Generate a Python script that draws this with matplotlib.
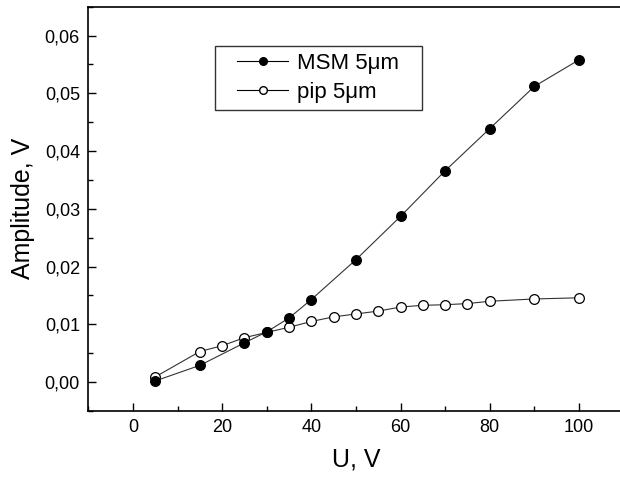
import matplotlib
matplotlib.use("Agg")
import matplotlib.pyplot as plt
from matplotlib.lines import Line2D
from matplotlib.legend_handler import HandlerLine2D
from matplotlib.ticker import MultipleLocator, FuncFormatter

plt.rcParams['font.family'] = ['Liberation Sans', 'DejaVu Sans']

# MSM 5um (filled circles)
u_msm = [5, 15, 25, 30, 35, 40, 50, 60, 70, 80, 90, 100]
amp_msm = [0.0002, 0.0029, 0.0068, 0.0087, 0.0111, 0.0143, 0.0212,
           0.0287, 0.0366, 0.0439, 0.0512, 0.0558]

# pip 5um (open circles)
u_pip = [5, 15, 20, 25, 30, 35, 40, 45, 50, 55, 60, 65, 70, 75, 80, 90, 100]
amp_pip = [0.0009, 0.0053, 0.0063, 0.0077, 0.0086, 0.0095, 0.0105, 0.0113,
           0.0118, 0.0123, 0.0130, 0.0133, 0.0134, 0.0136, 0.0140, 0.0144, 0.0146]

labels = ["MSM 5\u03bcm", "pip 5\u03bcm"]

fig = plt.figure(figsize=(6.2, 4.82), dpi=100)
ax = fig.add_axes([0.1424, 0.1473, 0.8634, 0.8388])

ax.plot(u_pip, amp_pip, '-', color='#333333', lw=0.8, marker='o', ms=7,
        mfc='white', mec='black', mew=0.9, zorder=2)
ax.plot(u_msm, amp_msm, '-', color='#333333', lw=0.8, marker='o', ms=7,
        mfc='black', mec='black', mew=0.9, zorder=3)

ax.set_xlim(-10, 110)
ax.set_ylim(-0.005, 0.065)
ax.xaxis.set_major_locator(MultipleLocator(20))
ax.xaxis.set_minor_locator(MultipleLocator(10))
ax.yaxis.set_major_locator(MultipleLocator(0.01))
ax.yaxis.set_minor_locator(MultipleLocator(0.005))
ax.yaxis.set_major_formatter(FuncFormatter(lambda v, p: f"{v:.2f}".replace('.', ',')))

ax.tick_params(which='both', direction='in', top=False, right=False,
               labelsize=13, width=1.0)
ax.tick_params(which='major', length=6, pad=6)
ax.tick_params(which='minor', length=3.5)
for s in ax.spines.values():
    s.set_linewidth(1.2)

ax.set_xlabel("U, V", fontsize=18, labelpad=8)
ax.set_ylabel("Amplitude, V", fontsize=18, labelpad=7)

handles = [
    Line2D([], [], color='black', lw=0.8, marker='o', ms=5.5, mfc='black', mec='black'),
    Line2D([], [], color='black', lw=0.8, marker='o', ms=5.5, mfc='white', mec='black'),
]
leg = ax.legend(handles, labels, loc='upper left',
                bbox_to_anchor=(0.2366, 0.3, 0.3862, 0.6035), mode='expand',
                borderaxespad=0, fontsize=16, frameon=True, fancybox=False,
                handlelength=2.97, handletextpad=0.4, labelspacing=0.35,
                borderpad=0.33,
                handler_map={Line2D: HandlerLine2D(xpad=0.66)})
leg.get_frame().set_edgecolor('black')
leg.get_frame().set_linewidth(1.0)

fig.savefig("out.png", dpi=100)
